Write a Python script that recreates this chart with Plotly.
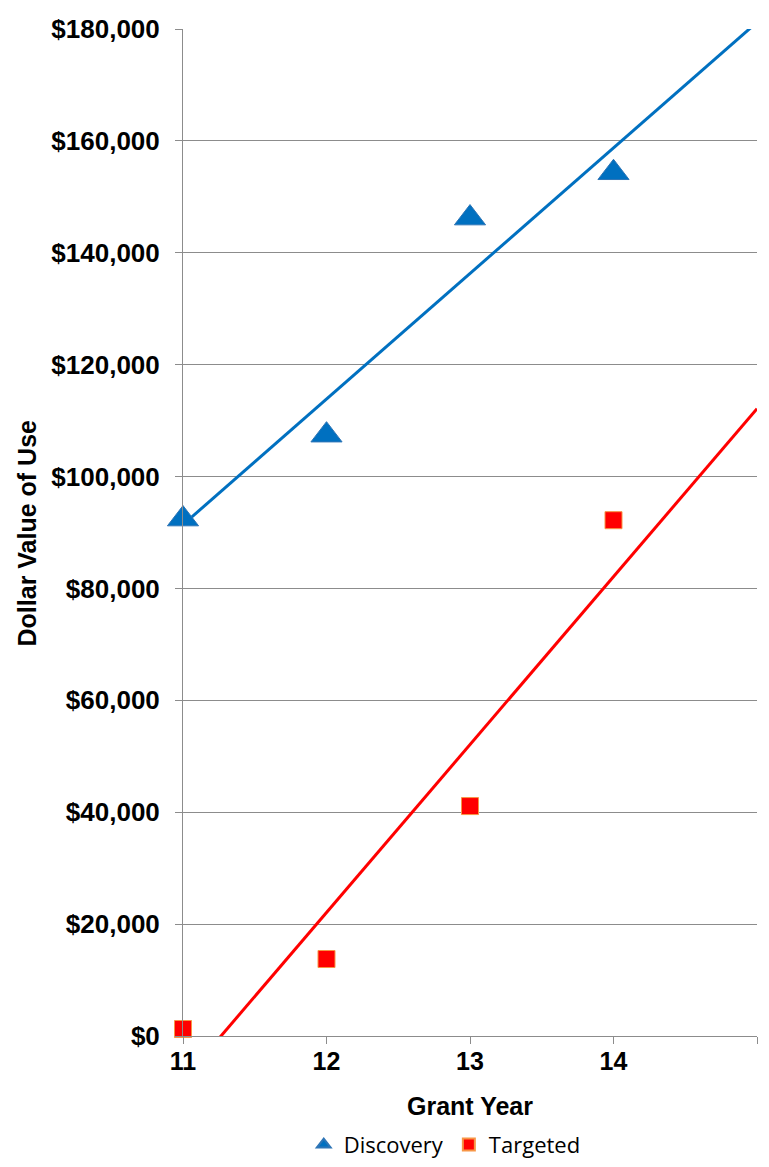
import numpy as np
import plotly.graph_objects as go

grant_year = [11, 12, 13, 14]
discovery = [92400, 107400, 146200, 154300]
targeted = [1250, 13760, 41100, 92200]

x_ticks = [11, 12, 13, 14, 15]
x_tick_text = ["11", "12", "13", "14", ""]
y_ticks = [0, 20000, 40000, 60000, 80000, 100000, 120000, 140000, 160000, 180000]

BLUE = "#0070C0"
RED = "#FF0000"

trend_x = [11, 15]
d_fit = np.polyfit(grant_year, discovery, 1)
t_fit = np.polyfit(grant_year, targeted, 1)

fig = go.Figure()
fig.add_trace(go.Scatter(x=trend_x, y=np.polyval(d_fit, trend_x), mode="lines",
                         line=dict(color=BLUE, width=3), showlegend=False, hoverinfo="skip"))
fig.add_trace(go.Scatter(x=trend_x, y=np.polyval(t_fit, trend_x), mode="lines",
                         line=dict(color=RED, width=3), showlegend=False, hoverinfo="skip"))
fig.add_trace(go.Scatter(x=grant_year, y=discovery, mode="markers", name="Discovery",
                         marker=dict(symbol="triangle-up", size=27, color=BLUE,
                                     line=dict(color="#2E75B6", width=1)),
                         cliponaxis=False))
fig.add_trace(go.Scatter(x=grant_year, y=targeted, mode="markers", name="Targeted",
                         marker=dict(symbol="square", size=17, color=RED,
                                     line=dict(color="#F79646", width=1)),
                         cliponaxis=False))

x_font = dict(family="Liberation Sans", size=25, color="black", weight="bold")
y_font = dict(family="Liberation Sans", size=26, color="black", weight="bold")
title_font = dict(family="Liberation Sans", size=25, color="black", weight="bold")

fig.update_layout(
    width=761, height=1159,
    margin=dict(l=175, r=12, t=21, b=131, autoexpand=False),
    plot_bgcolor="white", paper_bgcolor="white",
    xaxis=dict(range=[11, 15], tickvals=x_ticks, ticktext=x_tick_text,
               showgrid=False, showline=True, linecolor="#8C8C8C", linewidth=1,
               ticks="outside", ticklen=7, tickcolor="#8C8C8C",
               tickfont=x_font, zeroline=False, automargin=False,
               ticklabelstandoff=-4),
    yaxis=dict(range=[0, 180000], tickvals=y_ticks, tickformat="$,d",
               showgrid=True, gridcolor="#8C8C8C", gridwidth=1,
               showline=True, linecolor="#8C8C8C", linewidth=1,
               ticks="outside", ticklen=7, tickcolor="#8C8C8C",
               tickfont=y_font, zeroline=False, ticklabelstandoff=10,
               automargin=False),
    annotations=[
        dict(text="Grant Year", xref="paper", yref="paper", x=0.5, y=-0.0695,
             xanchor="center", yanchor="middle", showarrow=False, font=title_font),
        dict(text="Dollar Value of Use", xref="paper", yref="paper", x=-0.2718, y=0.5,
             xanchor="center", yanchor="middle", textangle=-90, showarrow=False,
             font=title_font),
    ],
    legend=dict(orientation="h", x=0.456, xanchor="center", y=-0.108, yanchor="middle",
                font=dict(family="Open Sans", size=22, color="black"),
                itemsizing="constant", bgcolor="rgba(0,0,0,0)"),
    font=dict(family="Liberation Sans"),
)

fig.write_html("out.html")
